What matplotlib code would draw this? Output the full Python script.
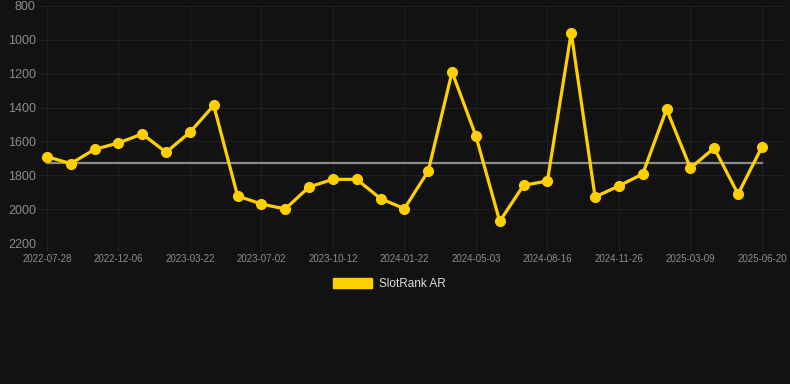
import matplotlib
matplotlib.use("Agg")
import matplotlib.pyplot as plt
from matplotlib.patches import Patch

plt.rcParams["font.family"] = ["Liberation Sans", "DejaVu Sans"]

tick_dates = ["2022-07-28", "2022-12-06", "2023-03-22", "2023-07-02", "2023-10-12",
              "2024-01-22", "2024-05-03", "2024-08-16", "2024-11-26", "2025-03-09",
              "2025-06-20"]
ranks = [1690, 1731, 1647, 1609, 1556, 1664, 1546, 1387, 1922, 1970,
         1999, 1869, 1824, 1824, 1938, 1997, 1775, 1190, 1568, 2072,
         1859, 1834, 957, 1928, 1863, 1792, 1410, 1757, 1639, 1911, 1633]
avg_rank = 1725
series_name = "SlotRank AR"
y_ticks = [800, 1000, 1200, 1400, 1600, 1800, 2000, 2200]

bg = "#121212"
gold = "#FFD000"

fig = plt.figure(figsize=(7.9, 3.84), dpi=100, facecolor=bg)
ax = fig.add_axes([40/790, 1-243/384, 745/790, 237/384], facecolor=bg)

x = list(range(len(ranks)))
ax.plot([x[0], x[-1]], [avg_rank, avg_rank], color="#8a8a8a", lw=1.6, zorder=2)
ax.plot(x, ranks, color=gold, lw=2.3, marker="o", markersize=7, zorder=3)

ax.set_ylim(2200, 800)
ax.set_xlim(-0.29, 30.97)
ax.set_yticks(y_ticks)
ax.set_yticklabels([str(v) for v in y_ticks])
ax.set_xticks(x[::3])
ax.set_xticklabels(tick_dates)

ax.grid(True, color="#1f1f1f", lw=0.8)
for s in ax.spines.values():
    s.set_visible(False)
ax.tick_params(axis="y", colors="#8c8c8c", labelsize=9, length=0, pad=3)
ax.tick_params(axis="x", colors="#222222", labelcolor="#8c8c8c", labelsize=7,
               length=6, width=0.8, pad=2)

leg = fig.legend(handles=[Patch(facecolor=gold, edgecolor=gold, label=series_name)],
                 loc="center", bbox_to_anchor=(389/790, 1-284/384), frameon=False,
                 handlelength=3.3, handleheight=1.0, fontsize=8.5, labelcolor="#dddddd",
                 handletextpad=0.6)

fig.savefig("out.png", dpi=100, facecolor=bg)
